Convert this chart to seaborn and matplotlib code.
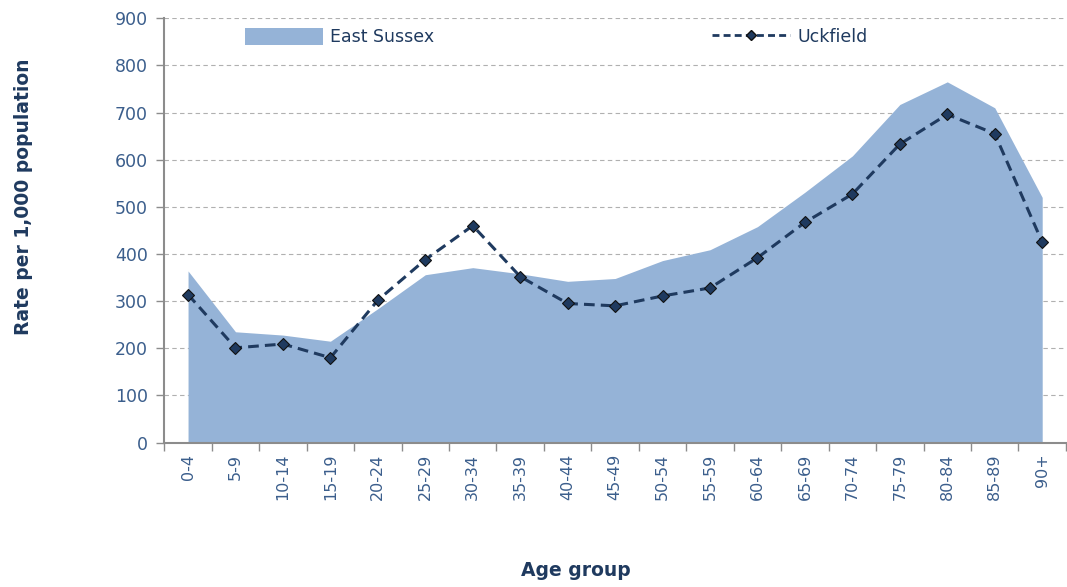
import matplotlib
matplotlib.use("Agg")
from matplotlib import pyplot as plt
from matplotlib.lines import Line2D
from matplotlib.patches import Patch
import pandas as pd
import seaborn as sns
import numpy as np

# data
age_groups = ["0-4", "5-9", "10-14", "15-19", "20-24", "25-29", "30-34",
              "35-39", "40-44", "45-49", "50-54", "55-59", "60-64", "65-69",
              "70-74", "75-79", "80-84", "85-89", "90+"]
east_sussex = [364, 235, 228, 215, 284, 356, 371, 358, 342, 348, 386, 409,
               458, 531, 608, 717, 765, 710, 520]
uckfield = [314, 201, 209, 180, 302, 388, 460, 352, 295, 290, 311, 328,
            392, 467, 527, 633, 696, 655, 425]

df = pd.DataFrame({"age": age_groups, "pos": np.arange(len(age_groups)),
                   "east_sussex": east_sussex, "uckfield": uckfield})

area_col = "#95B3D7"
line_col = "#1F3A5F"
tick_col = "#3B5E8C"
label_col = "#1F3A5F"
spine_col = "#8C8C8C"

sns.set_theme(style="white")
plt.rcParams["font.family"] = ["DejaVu Sans"]

fig = plt.figure(figsize=(10.67, 5.87), dpi=100)
ax = fig.add_axes([0.154, 0.246, 0.845, 0.723])

# east sussex area
ax.fill_between(df["pos"], 0, df["east_sussex"], color=area_col, lw=0,
                zorder=2)

# uckfield dashed line with diamonds
sns.lineplot(data=df, x="pos", y="uckfield", ax=ax, color=line_col,
             linestyle=(0, (3.5, 2)), linewidth=2.2, marker="D",
             markersize=6.5, markerfacecolor=line_col,
             markeredgecolor="#111111", markeredgewidth=0.8, zorder=3)

ax.set_xlim(-0.5, len(age_groups) - 0.5)
ax.set_ylim(0, 900)
ax.set_yticks(range(0, 901, 100))
ax.yaxis.grid(True, linestyle=(0, (4, 3)), color="#B0B0B0", linewidth=0.8)
ax.set_axisbelow(True)

ax.set_xticks(df["pos"])
ax.set_xticklabels(age_groups, rotation=90)
ax.set_xticks(np.arange(-0.5, len(age_groups), 1), minor=True)
ax.tick_params(axis="x", which="major", length=0, pad=8, labelsize=11.5,
               labelcolor=tick_col)
ax.tick_params(axis="x", which="minor", length=6, width=1, color=spine_col,
               direction="out", bottom=True)
ax.tick_params(axis="y", which="major", length=6, width=1, color=spine_col,
               direction="out", left=True, labelsize=12.5,
               labelcolor=tick_col, pad=6)

for s in ["top", "right"]:
    ax.spines[s].set_visible(False)
for s in ["left", "bottom"]:
    ax.spines[s].set_color(spine_col)
    ax.spines[s].set_linewidth(1.5)

ax.set_xlabel("")
ax.set_ylabel("")
fig.text(0.022, 0.665, "Rate per 1,000 population", rotation=90,
         ha="center", va="center", fontsize=13.5, fontweight="bold",
         color=label_col)
fig.text(0.54, 0.028, "Age group", ha="center", va="center", fontsize=13.5,
         fontweight="bold", color=label_col)

handles = [Patch(facecolor=area_col, edgecolor="none"),
           Line2D([0], [0], color=line_col, linestyle=(0, (2.5, 1.5)),
                  linewidth=2, marker="D", markersize=5,
                  markerfacecolor=line_col, markeredgecolor="#111111")]
leg = ax.legend(handles, ["East Sussex", "Uckfield"], ncol=2,
                loc="center", bbox_to_anchor=(0.435, 0.955), frameon=False,
                columnspacing=16, handlelength=4.5, handleheight=1.1,
                handletextpad=0.4, prop={"size": 12.5})
for t in leg.get_texts():
    t.set_color(line_col)

fig.savefig("out.png", dpi=100)
